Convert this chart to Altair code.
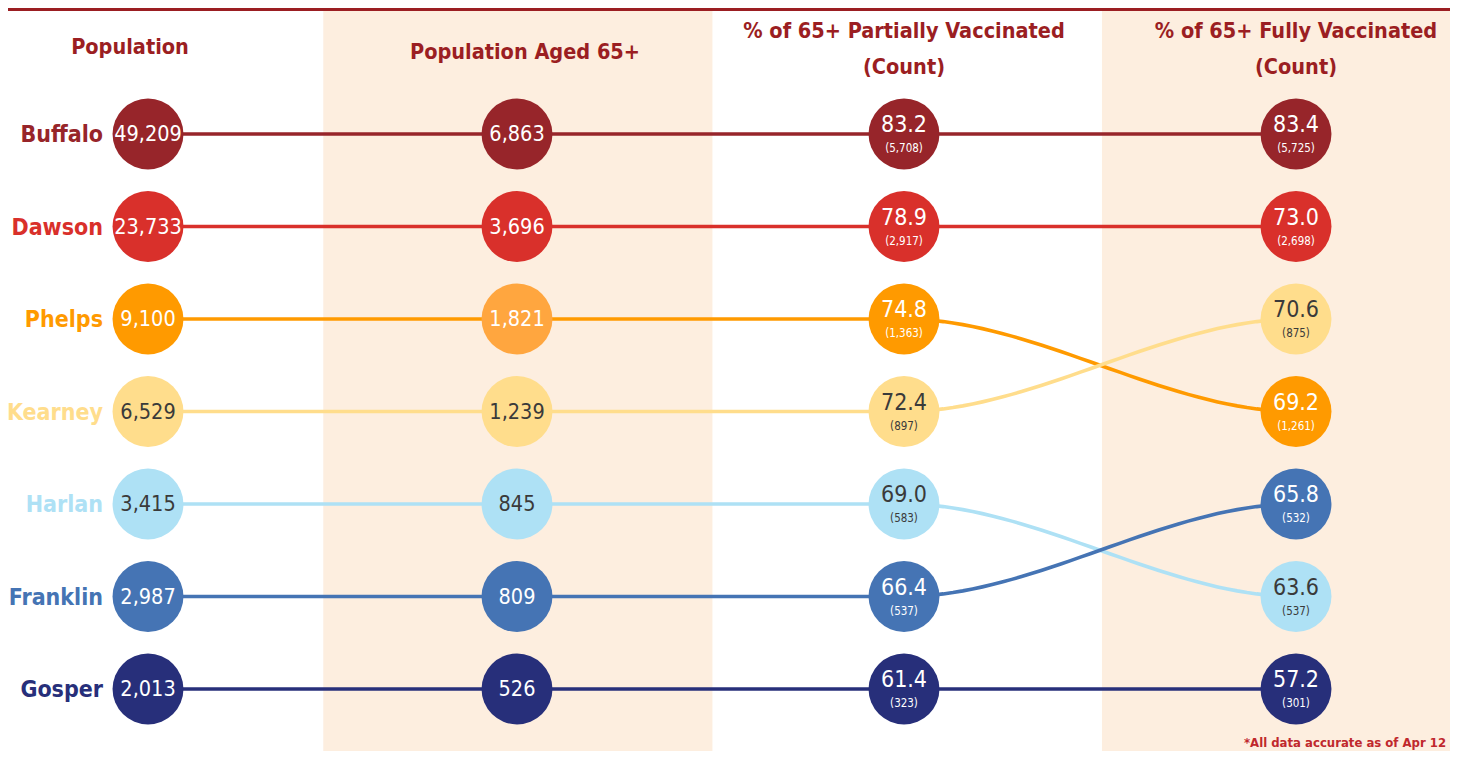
import altair as alt
import pandas as pd

# ---------------- data ----------------
counties = ["Buffalo", "Dawson", "Phelps", "Kearney", "Harlan", "Franklin", "Gosper"]
population = [49209, 23733, 9100, 6529, 3415, 2987, 2013]
population_65 = [6863, 3696, 1821, 1239, 845, 809, 526]
partial_pct = [83.2, 78.9, 74.8, 72.4, 69.0, 66.4, 61.4]
partial_count = [5708, 2917, 1363, 897, 583, 537, 323]
full_pct = [83.4, 73.0, 69.2, 70.6, 63.6, 65.8, 57.2]
full_count = [5725, 2698, 1261, 875, 537, 532, 301]
headers = [["Population"], ["Population Aged 65+"],
           ["% of 65+ Partially Vaccinated", "(Count)"],
           ["% of 65+ Fully Vaccinated", "(Count)"]]
footnote = "*All data accurate as of Apr 12"

# ---------------- styles ----------------
colors = ["#97252A", "#D9302B", "#FF9A00", "#FFDD8C", "#AEE1F5", "#4574B4", "#272F7A"]
dark_text = ["Kearney", "Harlan"]
FONT = "DejaVu Sans Condensed, Liberation Sans Narrow, sans-serif"
RED = "#9B1E22"
BAND = "#FDEEDF"

columns = [population, population_65, partial_pct, full_pct]
counts = [None, None, partial_count, full_count]
ranks = [list(pd.Series(v).rank(ascending=False, method="first") - 1) for v in columns]

rows = []
for c, vals in enumerate(columns):
    for i, name in enumerate(counties):
        main = f"{vals[i]:,}" if c < 2 else f"{vals[i]:.1f}"
        sub = f"({counts[c][i]:,})" if counts[c] else ""
        rows.append(dict(county=name, col=c, rank=ranks[c][i], main=main, sub=sub))
pts = pd.DataFrame(rows)

segs = pd.DataFrame([
    dict(county=name, seg=c, r0=ranks[c][i], r1=ranks[c + 1][i], key=f"{name}-{c}")
    for c in range(3) for i, name in enumerate(counties)
])

hdr = pd.DataFrame([
    dict(col=c, text=t, line=j, n=len(h)) for c, h in enumerate(headers) for j, t in enumerate(h)
])
bands = pd.DataFrame(dict(b0=[0.475, 2.505], b1=[1.505, 3.6]))
labels = pd.DataFrame(dict(county=counties, rank=ranks[0]))

xscale = alt.Scale(domain=[0, 1, 2, 3], range=[140, 509, 896, 1288], nice=False, zero=False)
yscale = alt.Scale(domain=[0, 6], range=[126, 681], nice=False, zero=False)
cscale = alt.Scale(domain=counties, range=colors)

band_layer = alt.Chart(bands).mark_rect(color=BAND, clip=True).encode(
    x=alt.X("b0:Q", scale=xscale, axis=None), x2="b1:Q",
    y=alt.value(3), y2=alt.value(743))

border = alt.Chart(bands).mark_rule(color=RED, strokeWidth=3).encode(
    x=alt.value(0), x2=alt.value(1442), y=alt.value(1.5))

lines = alt.Chart(segs).transform_calculate(
    t="sequence(0, 1.0001, 0.025)"
).transform_flatten(["t"]).transform_calculate(
    xx="datum.seg + datum.t",
    yy="datum.r0 + (datum.r1 - datum.r0) * datum.t * datum.t * (3 - 2 * datum.t)"
).mark_line(strokeWidth=3.6).encode(
    x=alt.X("xx:Q", scale=xscale, axis=None),
    y=alt.Y("yy:Q", scale=yscale, axis=None),
    color=alt.Color("county:N", scale=cscale, legend=None),
    detail="key:N",
    order=alt.Order("t:Q"),
)

circles = alt.Chart(pts).mark_circle(size=5030, opacity=1).encode(
    x=alt.X("col:Q", scale=xscale, axis=None),
    y=alt.Y("rank:Q", scale=yscale, axis=None),
    color=alt.condition("datum.county == 'Phelps' && datum.col == 1",
                        alt.value("#FFA63F"),
                        alt.Color("county:N", scale=cscale, legend=None)),
)

txt_color = alt.condition(
    "indexof(" + str(dark_text) + ", datum.county) >= 0",
    alt.value("#3A3A3A"), alt.value("white"))

base_txt = alt.Chart(pts).encode(
    x=alt.X("col:Q", scale=xscale, axis=None),
    y=alt.Y("rank:Q", scale=yscale, axis=None),
    color=txt_color,
)
main_big = base_txt.transform_filter("datum.col < 2").mark_text(
    font=FONT, fontSize=21.5, baseline="middle", align="center", dy=1).encode(text="main:N")
main_small = base_txt.transform_filter("datum.col >= 2").mark_text(
    font=FONT, fontSize=23, baseline="middle", align="center", dy=-9).encode(text="main:N")
sub_txt = base_txt.transform_filter("datum.col >= 2").mark_text(
    font=FONT, fontSize=11.5, baseline="middle", align="center", dy=15).encode(text="sub:N")

hbase = alt.Chart(hdr).mark_text(font=FONT, fontSize=21.5, fontWeight="bold",
                                 color=RED, align="center", baseline="middle")
h_pop = hbase.transform_filter("datum.col == 0").encode(
    x=alt.X("col:Q", scale=xscale, axis=None), y=alt.value(40),
    xOffset=alt.value(-18), text="text:N")
h_pop65 = hbase.transform_filter("datum.col == 1").encode(
    x=alt.X("col:Q", scale=xscale, axis=None), y=alt.value(45),
    xOffset=alt.value(8), text="text:N")
h2a = hbase.transform_filter("datum.n == 2 && datum.line == 0").encode(
    x=alt.X("col:Q", scale=xscale, axis=None), y=alt.value(24), text="text:N")
h2b = hbase.transform_filter("datum.n == 2 && datum.line == 1").encode(
    x=alt.X("col:Q", scale=xscale, axis=None), y=alt.value(60), text="text:N")

county_lbl = alt.Chart(labels).mark_text(
    font=FONT, fontSize=23, fontWeight="bold", align="right", baseline="middle", dy=1
).encode(
    x=alt.value(95),
    y=alt.Y("rank:Q", scale=yscale, axis=None),
    color=alt.Color("county:N", scale=cscale, legend=None),
    text="county:N",
)

foot = alt.Chart(pd.DataFrame(dict(t=[footnote]))).mark_text(
    font=FONT, fontSize=13, fontWeight="bold", color="#C0282D", align="left", baseline="middle"
).encode(x=alt.value(1236), y=alt.value(735), text="t:N")

chart = alt.layer(
    band_layer, border, lines, circles, main_big, main_small, sub_txt,
    h_pop, h_pop65, h2a, h2b, county_lbl, foot
).properties(
    width=1442, height=743,
    autosize=alt.AutoSizeParams(type="none"),
    padding=0,
).configure_view(stroke="transparent")

chart.save("out.html", embed_options={"renderer": "svg", "actions": False})
